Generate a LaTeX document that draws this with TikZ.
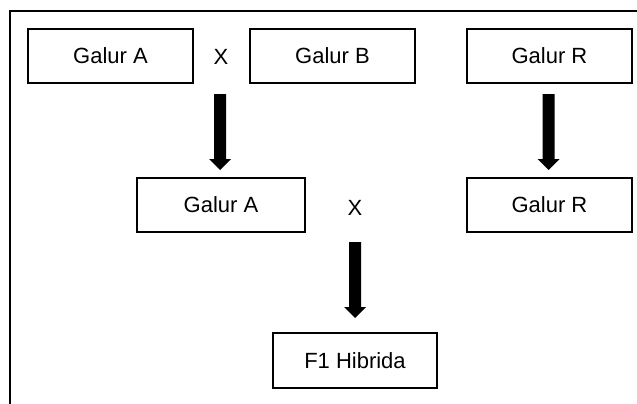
\documentclass[tikz,border=0pt]{standalone}
\usepackage{fontspec}
\setmainfont{Liberation Sans}
\begin{document}
\begin{tikzpicture}[x=1pt,y=-1pt,
  box/.style={draw, line width=2pt, minimum width=165pt, minimum height=54pt, inner sep=0pt, font=\fontsize{22}{26}\selectfont},
  lbl/.style={inner sep=0pt, font=\fontsize{22}{26}\selectfont},
  downarrow/.pic={\fill (-6,0) -- (6,0) -- (6,65) -- (11,65) -- (0,76) -- (-11,65) -- (-6,65) -- cycle;}]
\useasboundingbox (0,0) rectangle (637,404);
\draw[line width=2pt] (10,404) |- (637,11);
% top row
\node[box] (gA1) at (110.5,56) {Galur A};
\node[lbl] (x1) at (221,57) {X};
\node[box] (gB) at (332.5,56) {Galur B};
\node[box] (gR1) at (549.5,56) {Galur R};
% middle row
\node[box, minimum width=168pt] (gA2) at (221,205) {Galur A};
\node[lbl] (x2) at (355,208) {X};
\node[box] (gR2) at (549.5,205) {Galur R};
% bottom
\node[box, minimum width=164pt, minimum height=55pt] (f1) at (355,360.5) {F1 Hibrida};
% arrows
\coordinate (a1) at (220,94);
\coordinate (a2) at (548.5,94);
\coordinate (a3) at (355,242);
\pic at (a1) {downarrow};
\pic at (a2) {downarrow};
\pic at (a3) {downarrow};
\end{tikzpicture}
\end{document}
